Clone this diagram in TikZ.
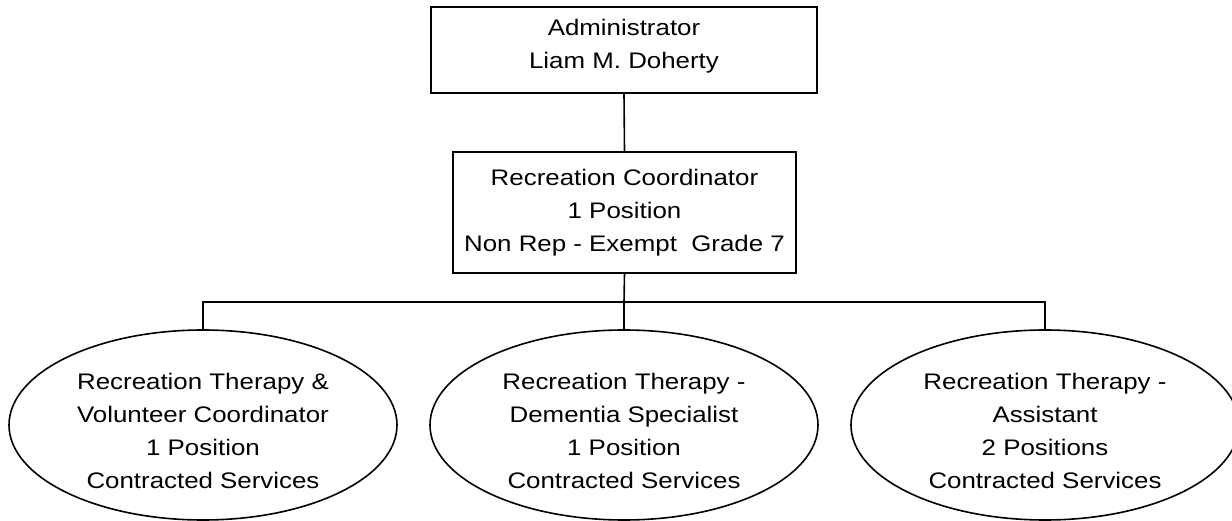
\documentclass[tikz,border=0pt]{standalone}
\usepackage{fontspec}
\setmainfont{Liberation Sans}[FakeStretch=1.15]
\usetikzlibrary{shapes.geometric}
\begin{document}
\begin{tikzpicture}[x=1pt,y=-1pt,
  every node/.style={font=\fontsize{22.5}{33}\selectfont, align=center, inner sep=0pt},
  box/.style={draw, line width=1.6pt, rectangle},
  oval/.style={draw, line width=1.6pt, ellipse, minimum width=388pt, minimum height=190pt},
  link/.style={line width=1.6pt}]
  \useasboundingbox (0,0) rectangle (1232,521);
  \clip (0,0) rectangle (1232,521);

  % management boxes
  \node[box, minimum width=386pt, minimum height=86pt] (admin) at (624,50) {};
  \node (admin-text) at (624,46) {Administrator\\Liam M. Doherty};
  \node[box, minimum width=343pt, minimum height=121pt] (coord) at (624.5,212.5)
    {Recreation Coordinator\\1 Position\\Non Rep - Exempt\ \ Grade 7};

  % staff positions
  \node[oval] (rtvc) at (203,425) {};
  \node[oval] (rtds) at (624,425) {};
  \node[oval] (rtas) at (1045,425) {};
  \node (rtvc-text) at (203,431)
    {Recreation Therapy \&\\Volunteer Coordinator\\1 Position\\Contracted Services};
  \node (rtds-text) at (624,431)
    {Recreation Therapy -\\Dementia Specialist\\1 Position\\Contracted Services};
  \node (rtas-text) at (1045,431)
    {Recreation Therapy -\\Assistant\\2 Positions\\Contracted Services};

  % reporting lines
  \coordinate (bus) at (624,302);
  \draw[link] (admin.south) -- (coord.north);
  \draw[link] (coord.south) -- (bus);
  \draw[link] (rtvc.north) |- (bus) -| (rtas.north);
  \draw[link] (bus) -- (rtds.north);
\end{tikzpicture}
\end{document}
